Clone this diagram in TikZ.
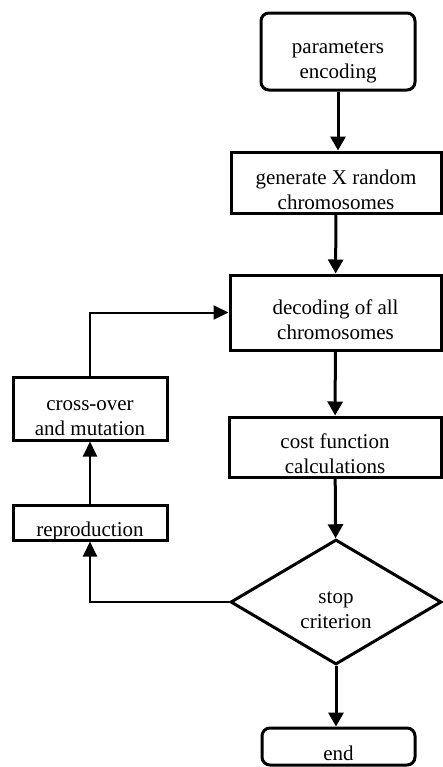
\documentclass[tikz,border=0pt]{standalone}
\usepackage{fontspec}
\setmainfont{Liberation Serif}
\usetikzlibrary{shapes.geometric,arrows.meta}
% text sits a little low in every box
\newcommand{\boxtext}[1]{\raisebox{-4.5pt}[\height][\depth]{\begin{tabular}{@{}c@{}}#1\end{tabular}}}
\begin{document}
\begin{tikzpicture}[x=0.5pt,y=-0.5pt,
  box/.style={draw, line width=1.5pt, inner sep=1pt, font=\fontsize{10.5}{12.5}\selectfont},
  roundbox/.style={box, rounded corners=4pt},
  flow/.style={line width=1.5pt, -{Triangle[length=7pt,width=7.5pt]}},
  loop/.style={line width=1pt, -{Triangle[length=7.5pt,width=7pt]}}]
\useasboundingbox (0,0) rectangle (443,767);
% main column
\node[roundbox, minimum width=77pt, minimum height=38.5pt] (params) at (338,51.5) {\boxtext{parameters\\encoding}};
\node[box, minimum width=105pt, minimum height=30.5pt] (gen) at (336,182.5) {\boxtext{generate X random\\chromosomes}};
\node[box, minimum width=105.5pt, minimum height=37.5pt] (dec) at (335.5,312.5) {\boxtext{decoding of all\\chromosomes}};
\node[box, minimum width=106pt, minimum height=30pt] (cost) at (335,447) {\boxtext{cost function\\calculations}};
\node[box, diamond, aspect=1.69, inner sep=0pt, minimum width=105.5pt, minimum height=62.5pt] (stop) at (336,602) {\boxtext{stop\\criterion}};
\node[roundbox, minimum width=76.5pt, minimum height=18.5pt] (end) at (338.5,746.5) {\boxtext{end}};
% loop back
\node[box, minimum width=77pt, minimum height=31.5pt] (cross) at (90,408.5) {\boxtext{cross-over\\and mutation}};
\node[box, minimum width=77pt, minimum height=17.5pt] (repro) at (90,522.5) {\boxtext{reproduction}};
\draw[flow] (params.south) -- (params.south |- gen.north);
\draw[flow] (gen) -- (dec);
\draw[flow] (dec) -- (cost);
\draw[flow] (cost) -- (stop);
\draw[flow] (stop) -- (stop |- end.north);
\draw[loop] (stop.west) -| (repro.south);
\draw[loop] (repro) -- (cross);
\draw[loop] (cross.north) |- (dec.west);
\end{tikzpicture}
\end{document}
